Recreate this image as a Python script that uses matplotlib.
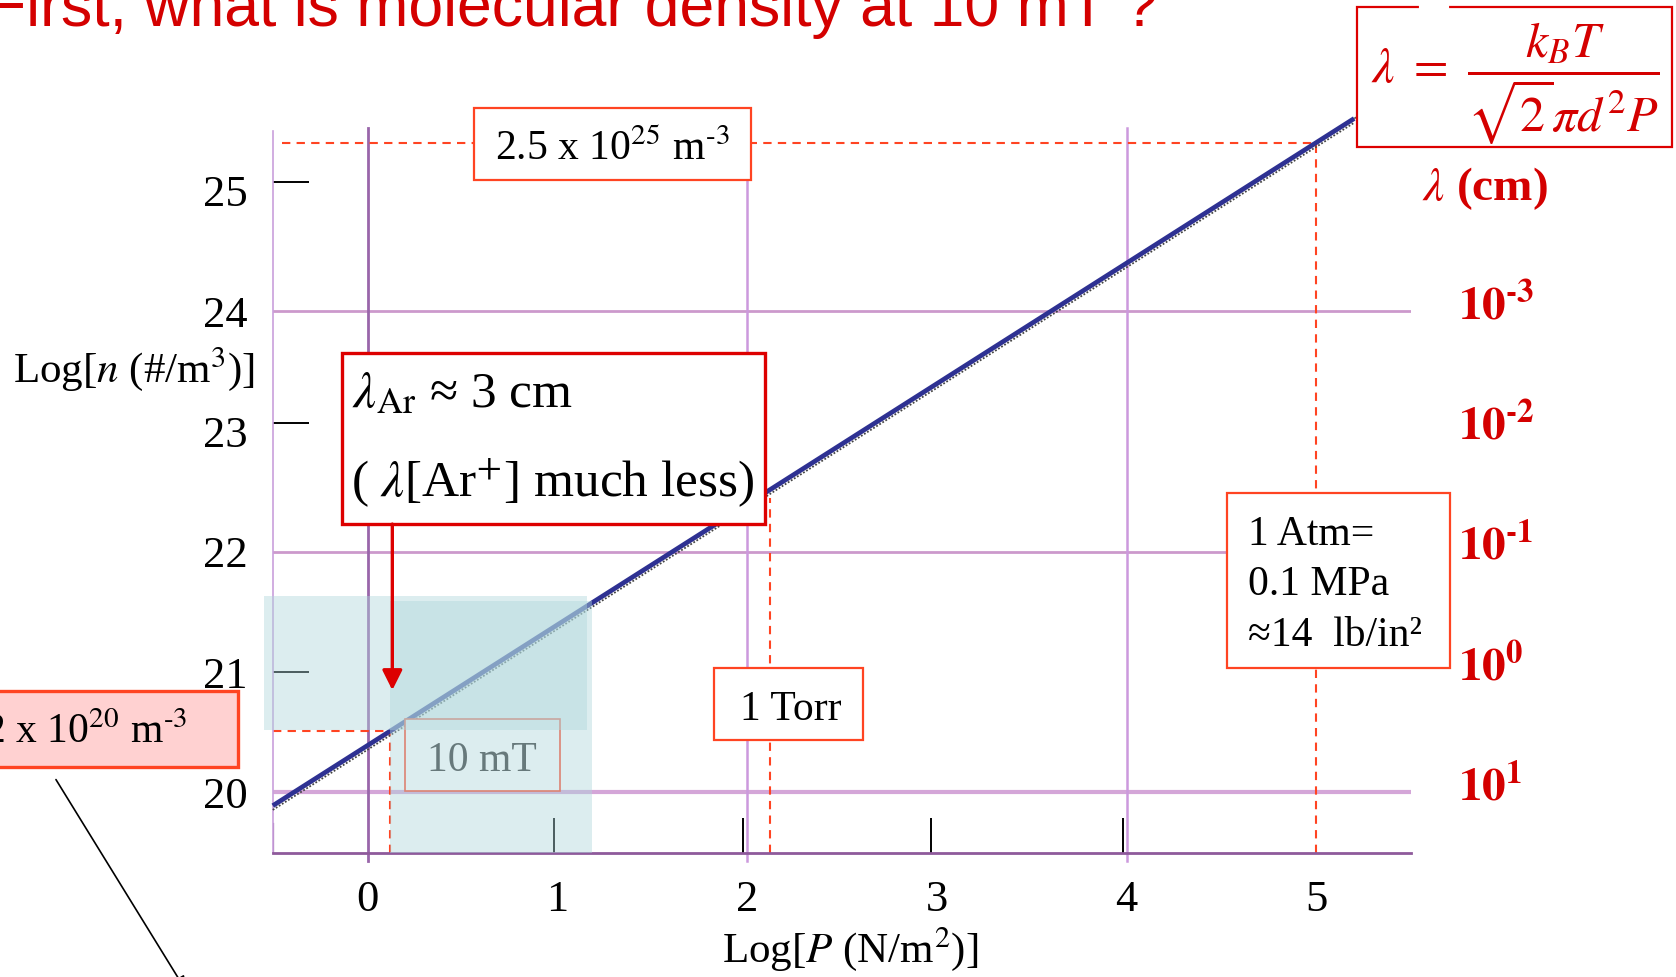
import matplotlib
matplotlib.use('Agg')
import matplotlib.pyplot as plt
from matplotlib.patches import Rectangle

plt.rcParams['font.family'] = ['Liberation Serif', 'DejaVu Serif']
plt.rcParams['mathtext.fontset'] = 'stix'

# ---------------- data ----------------
logP_line = [-0.5, 5.2]          # log10 P (N/m^2)
logn_line = [19.89, 25.6]        # log10 n (#/m^3)
x_tick_vals = [0, 1, 2, 3, 4, 5]
y_tick_vals = [20, 21, 22, 23, 24, 25]
lam_levels = [24, 23, 22, 21, 20]     # log n where lambda label sits
lam_exponents = ['-3', '-2', '-1', '0', '1']    # lambda (cm) = 10^exp
# reference pressures (logP, logn)
p_10mT = (0.12, 20.51)
p_1torr = (2.12, 22.51)
p_1atm = (5.0, 25.40)

HY = '\u2010'   # typographic hyphen for superscripts
RED = '#D40000'
ORG = '#FF4422'
PUR_L = '#CC99CC'

fig = plt.figure(figsize=(16.76, 9.77), dpi=100)
ax = fig.add_axes([0.16277, 0.1273, 0.67918, 0.7391])
ax.set_xlim(-0.5, 5.5)
ax.set_ylim(19.5, 25.5)

for s in ['top', 'right']:
    ax.spines[s].set_visible(False)
ax.spines['left'].set_color('#C9A0DC')
ax.spines['left'].set_linewidth(1.2)
ax.spines['bottom'].set_color('#8E5A9B')
ax.spines['bottom'].set_linewidth(2)
ax.plot([-0.5, -0.5], [19.5, 19.74], color='#8E5A9B', lw=1.6, zorder=2)

# grid lines
for yv in [24, 22]:
    ax.axhline(yv, color=PUR_L, lw=2, zorder=1)
ax.axhline(20, color='#D4A6D8', lw=3, zorder=1)
ax.plot([0, 0], [19.43, 25.52], color='#9966AA', lw=2, zorder=1, clip_on=False)
for xv in [2, 4]:
    ax.plot([xv, xv], [19.43, 25.52], color='#CC99DD', lw=1.8, zorder=1, clip_on=False)

# ticks
ax.set_xticks(x_tick_vals)
ax.set_yticks(y_tick_vals)
ax.tick_params(axis='both', which='major', length=0, labelsize=32, colors='black')
ax.tick_params(axis='x', which='major', pad=20)
ax.tick_params(axis='y', which='major', pad=18)
ax.xaxis.remove_overlapping_locs = False
ax.yaxis.remove_overlapping_locs = False
ax.set_xticks([0.98, 1.98, 2.97, 3.98], minor=True)
ax.set_yticks([21.0, 23.07, 25.07], minor=True)
ax.tick_params(axis='x', which='minor', direction='in', length=25, width=1.4, color='black')
ax.tick_params(axis='y', which='minor', direction='in', length=26, width=1.4, color='black')

# axis labels
ax.set_xlabel(r'Log[$P$ (N/m$^2$)]', fontsize=31, va='baseline', ha='center')
ax.xaxis.set_label_coords(2.541, 18.589, transform=ax.transData)
ax.set_ylabel(r'Log[$n$ (#/m$^3$)]', fontsize=31, rotation=0, va='baseline', ha='left')
ax.yaxis.set_label_coords(-1.87, 23.41, transform=ax.transData)

# main line
ax.plot(logP_line, [v - 0.035 for v in logn_line], color='#444444', lw=1.3,
        ls=(0, (1, 1)), zorder=2.9, clip_on=False)
ax.plot(logP_line, logn_line, color='#2E3192', lw=3.4, zorder=3,
        clip_on=False, solid_capstyle='butt')
ax.plot([logP_line[1], logP_line[1] + 0.07], [logn_line[1], logn_line[1] + 0.06],
        color='#555555', lw=1.2, ls=(0, (2, 1)), zorder=3, clip_on=False)

# dashed reference lines
dkw = dict(color=ORG, lw=1.5, ls=(0, (4, 3)), zorder=2.5, clip_on=False)
ax.plot([-0.5, p_10mT[0]], [p_10mT[1], p_10mT[1]], **dkw)
ax.plot([p_10mT[0], p_10mT[0]], [19.5, p_10mT[1]], **dkw)
ax.plot([p_1torr[0], p_1torr[0]], [19.5, p_1torr[1] - 0.06], **dkw)
ax.plot([-0.45, p_1atm[0]], [p_1atm[1], p_1atm[1]], **dkw)
ax.plot([p_1atm[0], p_1atm[0]], [19.5, p_1atm[1]], **dkw)


def box(x0, y0, x1, y1, ec, lw, fc='white', z=5, alpha=1.0):
    r = Rectangle((x0, y0), x1 - x0, y1 - y0, facecolor=fc, edgecolor=ec,
                  lw=lw, zorder=z, clip_on=False, alpha=alpha)
    ax.add_patch(r)
    return r


# 2.5e25 box
box(0.558, 25.09, 2.02, 25.69, ORG, 1.6)
ax.text(1.288, 25.256, r'2.5 x 10$^{25}$ m$^{%s3}$' % HY, fontsize=30, ha='center',
        va='baseline', zorder=6)

# lambda_Ar box
box(-0.135, 22.23, 2.092, 23.65, '#DD0000', 2.4)
ax.text(-0.085, 23.204, r'$\lambda_{\mathrm{Ar}}$ ≈ 3 cm', fontsize=37, ha='left',
        va='baseline', zorder=6)
ax.text(-0.09, 22.457, r'( $\lambda$[Ar$^{+}$] much less)', fontsize=37, ha='left',
        va='baseline', zorder=6)
ax.annotate('', xy=(0.13, 20.85), xytext=(0.13, 22.23),
            arrowprops=dict(arrowstyle='-|>', color='#DD0000', lw=2.4,
                            mutation_scale=30, shrinkA=0, shrinkB=0),
            zorder=8, annotation_clip=False)

# 1 Torr box
box(1.827, 20.433, 2.612, 21.037, ORG, 1.6)
ax.text(2.228, 20.599, '1 Torr', fontsize=30, ha='center', va='baseline', zorder=6)

# 1 Atm box
box(4.527, 21.03, 5.704, 22.486, ORG, 1.6)
for yy, s in zip([22.054, 21.64, 21.217], ['1 Atm=', '0.1 MPa', '≈14  lb/in²']):
    ax.text(4.64, yy, s, fontsize=30, ha='left', va='baseline', zorder=6)

# 10 mT box
box(0.197, 20.009, 1.014, 20.613, ORG, 1.2, z=4)
ax.text(0.313, 20.18, '10 mT', fontsize=30, ha='left', va='baseline',
        color='#333333', zorder=4.5)

# cyan overlays
box(-0.546, 20.52, 1.155, 21.636, 'none', 0, fc='#AED7DC', z=7, alpha=0.43)
box(0.118, 19.5, 1.183, 21.59, 'none', 0, fc='#AED7DC', z=7, alpha=0.43)

# pink box 2e20
box(-3.0, 20.208, -0.682, 20.84, ORG, 2.4, fc='#FFD1D1')
ax.text(-0.952, 20.41, r'2 x 10$^{20}$ m$^{%s3}$' % HY, fontsize=30, ha='right',
        va='baseline', zorder=6)
ax.annotate('', xy=(-0.96, 18.36), xytext=(-1.643, 20.107),
            arrowprops=dict(arrowstyle='-|>', color='black', lw=1.2,
                            mutation_scale=20, shrinkA=0, shrinkB=0),
            annotation_clip=False)

# formula box
box(5.214, 25.367, 6.874, 26.525, '#DD0000', 1.6)
ax.plot([5.55, 5.69], [26.525, 26.525], color='white', lw=3, zorder=5.5, clip_on=False)
ax.text(6.05, 25.89, r'$\lambda\ =\ \dfrac{k_B T}{\sqrt{2}\pi d^2 P}$', fontsize=36,
        color=RED, ha='center', va='center', zorder=6)
ax.text(5.557, 24.924, r'$\lambda$ (cm)', fontsize=34, fontweight='bold', color=RED,
        ha='left', va='baseline', zorder=6)

# lambda scale on the right
for lv, e in zip(lam_levels, lam_exponents):
    ax.text(5.746, lv - 0.07, r'$\mathbf{10}^{\mathbf{%s}}$' % e.replace('-', HY),
            fontsize=34, color=RED, ha='left', va='baseline', zorder=6)

# title
fig.text(-0.0072, 1 - 26 / 977, 'First, what is molecular density at 10 mT ?',
         fontsize=45, color=RED, family='Liberation Sans', ha='left', va='baseline')

fig.savefig('out.png', dpi=100)
